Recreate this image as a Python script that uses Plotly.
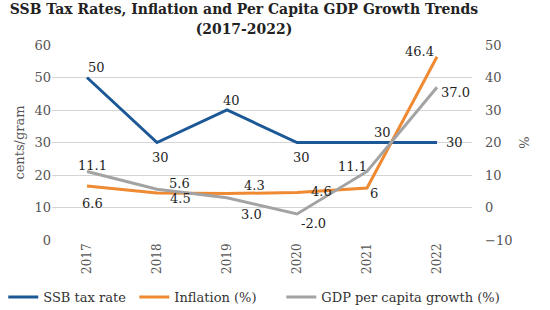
import plotly.graph_objects as go

years = ["2017", "2018", "2019", "2020", "2021", "2022"]
ssb_tax = [50, 30, 40, 30, 30, 30]
inflation = [6.6, 4.5, 4.3, 4.6, 6, 46.4]
gdp_growth = [11.1, 5.6, 3.0, -2.0, 11.1, 37.0]

ssb_labels = [f"{v:g}" for v in ssb_tax]
infl_labels = [f"{v:g}" for v in inflation]
gdp_labels = [f"{v:.1f}" for v in gdp_growth]

# label offsets (px) relative to points
ssb_off = [(9, 10), (3, -15), (4, 10), (4, -15), (15, 10), (17, 0)]
infl_off = [(5, -17), (23, -6), (27, 8), (24, 1), (7, -5), (-18, 5)]
gdp_off = [(5, 6), (22, 6), (24, -17), (16, -9), (-15, 5), (18, -5)]

BLUE = "#1c5896"
ORANGE = "#ef8a33"
GREY = "#a3a3a3"
FONT = "DejaVu Serif"

fig = go.Figure()
fig.add_trace(go.Scatter(x=years, y=ssb_tax, mode="lines", name="SSB tax rate",
                         line=dict(color=BLUE, width=3), yaxis="y", legend="legend",
                         showlegend=True))
fig.add_trace(go.Scatter(x=years, y=inflation, mode="lines", name="Inflation (%)",
                         line=dict(color=ORANGE, width=3), yaxis="y2", legend="legend2",
                         showlegend=True))
fig.add_trace(go.Scatter(x=years, y=gdp_growth, mode="lines", name="GDP per capita growth (%)",
                         line=dict(color=GREY, width=3), yaxis="y2", legend="legend3",
                         showlegend=True))

anns = []
for vals, labs, offs, yref in [(ssb_tax, ssb_labels, ssb_off, "y"),
                               (inflation, infl_labels, infl_off, "y2"),
                               (gdp_growth, gdp_labels, gdp_off, "y2")]:
    for i, (v, t, (dx, dy)) in enumerate(zip(vals, labs, offs)):
        anns.append(dict(x=i, y=v, xref="x", yref=yref, text=t, showarrow=False,
                         xshift=dx, yshift=dy,
                         font=dict(family=FONT, size=13, color="#1e1e1e")))

leg_common = dict(orientation="h", xanchor="left", y=-0.292, yanchor="middle",
                  font=dict(size=13, color="#333333"), bgcolor="rgba(0,0,0,0)")

fig.update_layout(
    width=550, height=310,
    showlegend=True,
    margin=dict(l=52, r=78, t=45, b=70, autoexpand=False),
    paper_bgcolor="white", plot_bgcolor="white",
    font=dict(family=FONT, color="#555555"),
    title=dict(text="<b>SSB Tax Rates, Inflation and Per Capita GDP Growth Trends<br>(2017-2022)</b>",
               x=0.4436, xanchor="center", y=0.955, yanchor="top",
               font=dict(family="DejaVu Serif Condensed, DejaVu Serif", size=15.5, color="#222222")),
    xaxis=dict(type="category", range=[-0.5, 5.5], tickangle=-90, showgrid=False,
               tickfont=dict(size=12, color="#555555"), showline=False, zeroline=False),
    yaxis=dict(range=[0, 60], dtick=10, showgrid=True, gridcolor="#d4d4d4", gridwidth=1,
               zeroline=False, tickfont=dict(size=13, color="#555555"),
               title=dict(text="cents/gram", font=dict(size=13, color="#555555"), standoff=6)),
    yaxis2=dict(range=[-10, 50], dtick=10, overlaying="y", side="right", showgrid=False,
                zeroline=False, tickfont=dict(size=13, color="#555555"), ticklabelstandoff=12,
                title=dict(text="%", font=dict(size=13, color="#555555"), standoff=8)),
    legend=dict(x=-0.116, **leg_common),
    legend2=dict(x=0.196, **leg_common),
    legend3=dict(x=0.546, **leg_common),
    annotations=anns,
)

fig.write_html("out.html")
